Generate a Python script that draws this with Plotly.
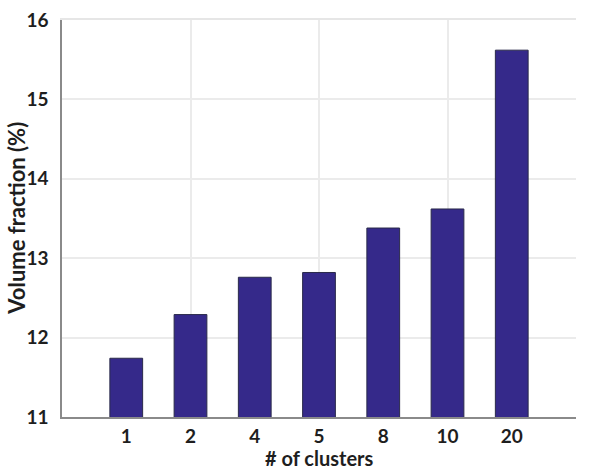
import plotly.graph_objects as go

categories = ["1", "2", "4", "5", "8", "10", "20"]
values = [11.74, 12.29, 12.76, 12.82, 13.38, 13.62, 15.62]
positions = [1, 2, 3, 4, 5, 6, 7]
y_ticks = [11, 12, 13, 14, 15, 16]

font_family = "Lato"
bar_color = "#35298a"
text_color = "#1e1e1e"

fig = go.Figure()
fig.add_trace(go.Bar(
    x=positions, y=values, width=0.51,
    marker=dict(color=bar_color, line=dict(color="#2a2a4a", width=1)),
))
# invisible trace on secondary x axis for vertical gridlines
fig.add_trace(go.Scatter(x=[0, 8], y=[11, 11], xaxis="x2", mode="markers",
                         marker=dict(opacity=0), hoverinfo="skip", showlegend=False))

tick_font = dict(size=19, family=font_family, color=text_color, weight="bold")
title_font = dict(size=20, family=font_family, color=text_color, weight="bold")

fig.update_layout(
    width=590, height=472,
    margin=dict(l=62, r=14, t=20, b=55, autoexpand=False),
    paper_bgcolor="white", plot_bgcolor="white",
    showlegend=False,
    font=dict(family=font_family, color=text_color),
    xaxis=dict(
        range=[0, 8], tickvals=positions, ticktext=categories,
        showgrid=False, zeroline=False, automargin=False,
        showline=True, linecolor="#8a8a8a", linewidth=1.5,
        ticks="", ticklabelstandoff=1,
        tickfont=tick_font,
    ),
    xaxis2=dict(
        range=[0, 8], overlaying="x", side="top", tickvals=[0, 2, 4, 6, 8],
        showticklabels=False, showgrid=True, gridcolor="#ebebeb", gridwidth=1.5,
        zeroline=False, showline=True, linecolor="#e6e6e6", linewidth=1.5, ticks="",
        automargin=False,
    ),
    yaxis=dict(
        range=[11, 16], tickvals=y_ticks, ticktext=[str(v) for v in y_ticks],
        showgrid=True, gridcolor="#ebebeb", gridwidth=1.5, zeroline=False,
        showline=True, linecolor="#8a8a8a", linewidth=1.5, automargin=False,
        ticks="", ticklabelstandoff=8,
        tickfont=tick_font,
    ),
    annotations=[
        dict(text="# of clusters", xref="paper", yref="paper",
             x=0.5, y=-0.135, xanchor="center", yanchor="bottom",
             showarrow=False, font=title_font, borderpad=0),
        dict(text="Volume fraction (%)", xref="paper", yref="paper",
             x=-0.089, y=0.5, xanchor="center", yanchor="middle", textangle=-90,
             showarrow=False, font=dict(size=22, family=font_family,
                                        color=text_color, weight="bold"),
             borderpad=0),
    ],
)

fig.write_html("out.html")
